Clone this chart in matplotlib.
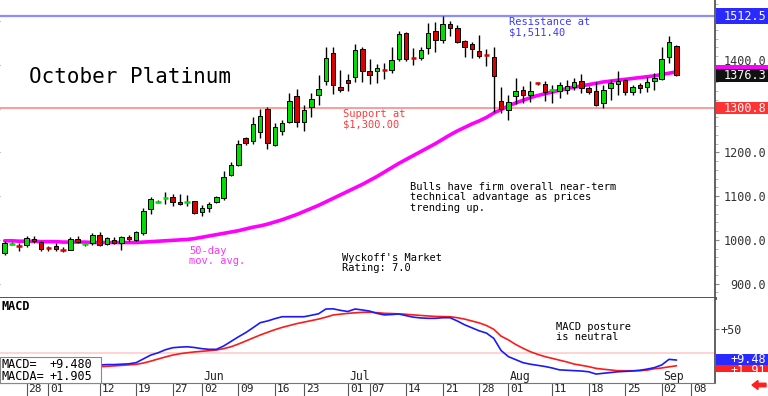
import numpy as np
import pandas as pd
import matplotlib
matplotlib.use("Agg")
import matplotlib.pyplot as plt
from matplotlib.patches import Rectangle, FancyArrow
from matplotlib.transforms import ScaledTranslation

plt.rcParams['font.family'] = ['DejaVu Sans Mono', 'DejaVu Sans']

# trading days (exchange holidays skipped)
holidays = ["2025-05-26", "2025-06-19", "2025-07-04", "2025-09-01"]
days = pd.bdate_range("2025-04-23", "2025-09-12")
days = days[~days.isin(pd.to_datetime(holidays))]

# daily OHLC, Apr 23 .. Sep 4 2025
opens = [971, 990, 988, 988, 1003, 995, 982, 986, 978, 977,
         1003, 989, 992, 1011, 991, 1000, 992, 1007, 1000, 1016,
         1071, 1086, 1094, 1099, 1087, 1085, 1088, 1063, 1072, 1086,
         1095, 1148, 1171, 1232, 1225, 1247, 1300, 1217, 1248, 1270,
         1329, 1270, 1304, 1331, 1364, 1428, 1350, 1365, 1372, 1436,
         1387, 1385, 1390, 1388, 1413, 1472, 1416, 1415, 1438, 1478,
         1458, 1493, 1484, 1455, 1447, 1432, 1425, 1419, 1318, 1297,
         1329, 1342, 1331, 1359, 1356, 1341, 1341, 1342, 1350, 1364,
         1347, 1341, 1313, 1347, 1356, 1365, 1339, 1355, 1349, 1364,
         1367, 1419, 1443]
highs = [998, 995, 992, 1010, 1008, 998, 986, 992, 984, 1006,
         1008, 993, 1016, 1018, 1006, 1006, 1009, 1011, 1021, 1073,
         1098, 1092, 1110, 1106, 1105, 1103, 1090, 1079, 1087, 1101,
         1158, 1178, 1228, 1236, 1280, 1300, 1303, 1267, 1275, 1335,
         1346, 1308, 1336, 1378, 1442, 1442, 1388, 1379, 1448, 1440,
         1414, 1402, 1404, 1440, 1478, 1475, 1438, 1440, 1495, 1499,
         1512, 1501, 1491, 1457, 1452, 1468, 1436, 1440, 1349, 1331,
         1369, 1352, 1364, 1361, 1364, 1354, 1362, 1366, 1369, 1379,
         1352, 1362, 1354, 1366, 1387, 1368, 1353, 1358, 1372, 1381,
         1440, 1465, 1446]
lows = [966, 988, 975, 983, 992, 975, 975, 975, 972, 976,
        993, 987, 989, 987, 989, 990, 978, 998, 998, 1012,
        1060, 1084, 1082, 1077, 1080, 1077, 1059, 1054, 1064, 1084,
        1092, 1146, 1170, 1216, 1220, 1232, 1207, 1215, 1240, 1268,
        1259, 1248, 1282, 1308, 1354, 1333, 1337, 1341, 1362, 1362,
        1356, 1358, 1367, 1382, 1410, 1408, 1400, 1411, 1426, 1430,
        1449, 1465, 1449, 1419, 1415, 1415, 1398, 1293, 1289, 1274,
        1311, 1314, 1316, 1355, 1317, 1312, 1324, 1334, 1343, 1335,
        1334, 1305, 1301, 1320, 1331, 1332, 1331, 1336, 1339, 1343,
        1365, 1404, 1374]
closes = [992, 993, 986, 1005, 997, 980, 980, 979, 976, 1003,
          996, 991, 1012, 988, 1004, 994, 1006, 1002, 1018, 1067,
          1093, 1089, 1096, 1086, 1082, 1087, 1061, 1072, 1082, 1099,
          1144, 1171, 1220, 1221, 1265, 1283, 1221, 1259, 1268, 1317,
          1270, 1297, 1322, 1344, 1415, 1354, 1343, 1359, 1434, 1385,
          1376, 1392, 1387, 1411, 1470, 1413, 1414, 1434, 1472, 1457,
          1494, 1484, 1453, 1442, 1436, 1421, 1422, 1375, 1299, 1316,
          1341, 1331, 1341, 1357, 1339, 1344, 1354, 1352, 1362, 1347,
          1338, 1309, 1342, 1359, 1363, 1339, 1349, 1348, 1362, 1371,
          1413, 1453, 1376.3]

# 50-day moving average
ma50 = [998, 998, 997, 997, 997, 996, 996, 996, 995, 995,
        995, 995, 994, 994, 994, 994, 994, 994, 994, 995,
        996, 997, 998, 999, 1000, 1001, 1003, 1006, 1009, 1012,
        1015, 1018, 1021, 1025, 1029, 1032, 1036, 1041, 1046, 1052,
        1058, 1065, 1072, 1079, 1087, 1095, 1103, 1111, 1119, 1127,
        1136, 1145, 1155, 1165, 1175, 1184, 1193, 1202, 1211, 1220,
        1230, 1240, 1249, 1257, 1265, 1272, 1280, 1290, 1298, 1306,
        1313, 1319, 1325, 1330, 1334, 1338, 1342, 1346, 1349, 1352,
        1355, 1358, 1361, 1363, 1365, 1367, 1369, 1371, 1373, 1375,
        1378, 1381, 1384]

macd = [3, 2, 2, 1, 2, 2, 1, 1, 0, 1,
        2, 2, 2, 2.9, 3.5, 3.5, 4, 4.5, 6, 11,
        16, 19, 23, 25.7, 26.5, 27, 26, 24.5, 23.6, 23.6,
        28, 34, 40, 45.5, 52, 58.7, 61, 64, 66.6, 66.6,
        66.6, 66.6, 68.5, 70.5, 76.8, 77, 75, 73.5, 76.8, 75.5,
        74, 71, 69, 69.5, 70.2, 68, 66, 65, 64.5, 64.5,
        65.3, 65.3, 61, 56, 52, 48, 45, 38, 22, 14,
        10, 6, 4, 2.5, 1, -1, -3.5, -4, -4.5, -5,
        -6, -9, -8, -7, -6, -5.5, -5, -4, -2.5, -0.5,
        3, 10.4, 9.48]
macda = [1, 1, 1, 1, 1, 1, 1, 1, 1, 0.5,
         0.5, 0.5, 0.7, 0.7, 1.2, 1.8, 2.4, 3.1, 3.8, 5.5,
         8, 10.8, 13.5, 16, 17.8, 19.1, 20.2, 21, 21.8, 22.7,
         24.5, 27, 30.5, 34.5, 38.5, 42.5, 46, 49.5, 52.5, 55,
         57.5, 59.5, 61.5, 63.5, 66, 68.9, 70, 71, 71.8, 72.4,
         72.5, 72, 71.1, 70.8, 70.4, 69.8, 69, 68.3, 67.6, 67,
         66.8, 66.6, 65.3, 63.5, 61, 58.5, 55, 50, 41, 36,
         30, 25, 20.5, 17, 14, 11.7, 9.3, 7, 4.2, 2.5,
         0.8, -1.5, -2.6, -3.6, -4.6, -4.6, -4.6, -4.6, -3.8, -2,
         -1, 0.5, 1.905]

resistance = 1512.5
support = 1300.8
macd_ref = 19

tick_dates = ["2025-04-28", "2025-05-01", "2025-05-12", "2025-05-19", "2025-05-27",
              "2025-06-02", "2025-06-09", "2025-06-16", "2025-06-23", "2025-07-01",
              "2025-07-07", "2025-07-14", "2025-07-21", "2025-07-28", "2025-08-01",
              "2025-08-11", "2025-08-18", "2025-08-25", "2025-09-02", "2025-09-08"]
month_names = ["Jun", "Jul", "Aug", "Sep"]
month_dates = ["2025-06-02", "2025-07-01", "2025-08-01", "2025-09-02"]

W, H = 768, 396


def fx(px):
    return px / W


def fy(py):
    return 1 - py / H


fig = plt.figure(figsize=(W / 100, H / 100), dpi=100)
ax = fig.add_axes([0, fy(298), 715 / W, 298 / H])
ax2 = fig.add_axes([0, fy(383), 715 / W, 85 / H], sharex=ax)

n = len(closes)
x = np.arange(n)

# --- price panel ---
ax.axhline(resistance, color='#8c8cff', lw=1.6, zorder=1)
ax.axhline(support, color='#ff8080', lw=1.1, zorder=1)
ax.plot(x, ma50, color='#ff00ff', lw=2.6, zorder=2, solid_capstyle='round')

for i in range(n):
    o, h, l, c = opens[i], highs[i], lows[i], closes[i]
    col = '#00dd00' if c >= o else '#dd0000'
    ax.vlines(i, l, h, color='black', lw=1.0, zorder=3)
    if abs(c - o) < 4:
        ax.hlines((o + c) / 2, i - 0.38, i + 0.38, color=col, lw=1.8, zorder=4)
    else:
        ax.add_patch(Rectangle((i - 0.31, min(o, c)), 0.62, abs(c - o),
                               facecolor=col, edgecolor='black', lw=0.7, zorder=4))

ax.set_xlim(-0.64, 97.3)
ax.set_ylim(867.2, 1548.3)
for s in ['top', 'left']:
    ax.spines[s].set_visible(False)
ax.spines['right'].set_color('#555555')
ax.spines['right'].set_linewidth(1.3)
ax.spines['bottom'].set_color('#444444')
ax.spines['bottom'].set_linewidth(2)
ax.yaxis.tick_right()
ax.set_yticks([900, 1000, 1100, 1200, 1300, 1400, 1500])
ax.set_yticklabels(['900.0', '1000.0', '1100.0', '1200.0', '', '', ''])
ax.tick_params(axis='y', which='major', right=True, left=True, labelleft=False,
               length=3, color='#888888', labelcolor='#333333', labelsize=8.5,
               pad=33.7)
for lbl in ax.get_yticklabels():
    lbl.set_ha('right')
ax.set_yticks(np.arange(880, 1541, 20), minor=True)
ax.tick_params(axis='y', which='minor', right=True, left=False, length=2, color='#aaaaaa')
ax.tick_params(axis='x', which='both', bottom=False, labelbottom=False)
# 1400.0 label sits just above the moving-average marker
fig.text(fx(766), fy(61.5), '1400.0', fontsize=8.5, color='#333333', ha='right', va='center')

# --- MACD panel ---
ax2.axhline(macd_ref, color='#ffcccc', lw=1.2, zorder=1)
ax2.plot(x, macd, color='#1a1aff', lw=1.2, zorder=3)
ax2.plot(x, macda, color='#ff1a1a', lw=1.2, zorder=2)
ax2.set_ylim(-20.8, 91.3)
ax2.spines['top'].set_visible(False)
ax2.spines['left'].set_visible(False)
ax2.spines['right'].set_color('#555555')
ax2.spines['right'].set_linewidth(1.3)
ax2.spines['bottom'].set_color('#777777')
ax2.yaxis.tick_right()
ax2.set_yticks([50])
ax2.set_yticklabels(['+50'])
ax2.tick_params(axis='y', length=3, color='#888888', labelcolor='#333333',
                labelsize=8.5, pad=1)

tick_pos = days.get_indexer(pd.to_datetime(tick_dates))
ax2.set_xticks(tick_pos)
ax2.set_xticklabels([d[-2:] for d in tick_dates])
ax2.tick_params(axis='x', direction='out', length=9.4, width=0.8, color='#555555',
                labelsize=8, labelcolor='#222222', pad=-8.6)
off = ScaledTranslation(2 / 100, 0, fig.dpi_scale_trans)
for lbl in ax2.get_xticklabels():
    lbl.set_ha('left')
    lbl.set_transform(lbl.get_transform() + off)

month_pos = days.get_indexer(pd.to_datetime(month_dates))
for name, p in zip(month_names, month_pos):
    ax2.text(p + 0.2, -21, name, fontsize=8.3, color='#222222', ha='left', va='bottom')

# --- texts ---
fig.text(fx(29), fy(77), 'October Platinum', fontsize=15, color='black', va='center')
fig.text(fx(509), fy(17), 'Resistance at\n$1,511.40', fontsize=7.5, color='#3a3aff',
         va='top', linespacing=1.05)
fig.text(fx(343), fy(109), 'Support at\n$1,300.00', fontsize=7.5, color='#ff3a3a',
         va='top', linespacing=1.05)
fig.text(fx(410), fy(182), 'Bulls have firm overall near-term\ntechnical advantage as prices\ntrending up.',
         fontsize=7.5, color='black', va='top', linespacing=1.05)
fig.text(fx(342), fy(253), "Wyckoff's Market\nRating: 7.0", fontsize=7.5, color='black',
         va='top', linespacing=1.05)
fig.text(fx(189), fy(246), '50-day\nmov. avg.', fontsize=7.5, color='#ff33ff',
         va='top', linespacing=1.05)
fig.text(fx(556), fy(322), 'MACD posture\nis neutral', fontsize=7.5, color='black',
         va='top', linespacing=1.05)
fig.text(fx(1), fy(306), 'MACD', fontsize=8.5, fontweight='bold', color='black', va='center')

# MACD value box
fig.add_artist(Rectangle((fx(0), fy(383)), 101 / W, 26 / H, transform=fig.transFigure,
                         facecolor='white', edgecolor='#888888', lw=0.8, zorder=5))
fig.text(fx(1), fy(364), 'MACD=', fontsize=8.5, va='center', zorder=6)
fig.text(fx(50), fy(364), '+9.480', fontsize=8.5, va='center', zorder=6)
fig.text(fx(1), fy(376), 'MACDA=', fontsize=8.5, va='center', zorder=6)
fig.text(fx(50), fy(376), '+1.905', fontsize=8.5, va='center', zorder=6)


# right-hand value boxes
def value_box(y0, y1, color, label, ty):
    fig.add_artist(Rectangle((fx(716), fy(y1)), 52 / W, (y1 - y0) / H,
                             transform=fig.transFigure, facecolor=color,
                             edgecolor='none', zorder=5))
    if label:
        fig.text(fx(766), fy(ty), label, fontsize=8.5, color='white', ha='right',
                 va='center', zorder=6)


value_box(8, 23.5, '#2a2aff', '1512.5', 16)
value_box(65, 68.5, '#ff00ff', '', 0)
value_box(68.5, 82, '#111111', '1376.3', 75.5)
value_box(101.5, 114, '#ff3333', '1300.8', 108)
value_box(365, 372, '#ff2020', '+1.91', 371)
value_box(354, 365, '#2a2aff', '+9.48', 359.5)
# cover red-box text overflow below the box
fig.add_artist(Rectangle((fx(716), fy(383)), 52 / W, 11 / H, transform=fig.transFigure,
                         facecolor='white', edgecolor='none', zorder=7))

# small red arrow bottom right
fig.add_artist(FancyArrow(fx(766), fy(385), -14 / W, 0, width=3.5 / H,
                          head_width=9 / H, head_length=6 / W,
                          length_includes_head=True, transform=fig.transFigure,
                          color='#ff2020', zorder=8))

fig.savefig('out.png', dpi=100)
